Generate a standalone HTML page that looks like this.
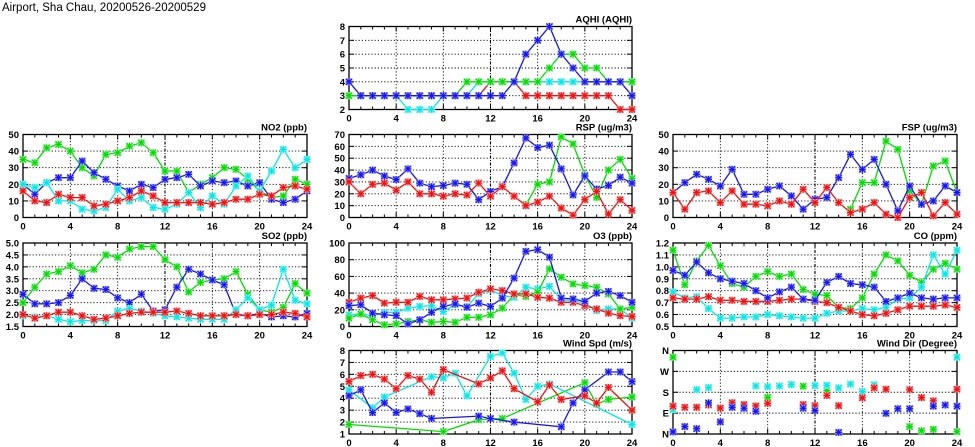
<!DOCTYPE html>
<html><head><meta charset="utf-8"><title>Airport, Sha Chau</title>
<style>
html,body{margin:0;padding:0;background:#fff;}
svg{display:block;}
text{font-family:"Liberation Sans",sans-serif;}
</style></head>
<body>
<svg id="chart" width="975" height="447" viewBox="0 0 975 447" xmlns="http://www.w3.org/2000/svg">
<rect x="0" y="0" width="975" height="447" fill="#fff"/>
<text x="2" y="11" font-size="11.5" fill="#000">Airport, Sha Chau, 20200526-20200529</text>
</svg>
<script>
const hours = [0,1,2,3,4,5,6,7,8,9,10,11,12,13,14,15,16,17,18,19,20,21,22,23,24];
const N = null;
// AQHI
const aqhiBlue  = [4,3,3,3,3,3,3,3,3,3,3,3,3,3,4,6,7,8,6,5,4,4,4,4,3];
const aqhiGreen = [3,3,3,3,3,3,3,3,3,3,4,4,4,4,4,4,4,5,6,6,5,5,4,4,4];
const aqhiCyan  = [3,3,3,3,3,2,2,2,3,3,3,4,4,4,4,4,4,4,4,4,4,4,4,4,4];
const aqhiRed   = [3,3,3,3,3,3,3,3,3,3,3,3,4,4,4,3,3,3,3,3,3,3,3,2,2];
const aqhiTicks = ['2','3','4','5','6','7','8'];
// NO2
const no2Green = [35,33,42,44,40,30,25,38,39,43,45,39,28,28,15,20,24,30,29,23,16,12,13,23,20];
const no2Blue  = [20,14,21,24,24,34,27,23,19,16,20,18,23,24,26,19,22,21,22,19,21,11,9,11,16];
const no2Cyan  = [20,18,21,10,10,5,4,6,17,10,12,6,5,8,15,6,13,8,19,25,16,28,41,30,35];
const no2Red   = [16,10,9,14,12,12,7,8,10,12,16,13,9,9,9,9,8,9,11,11,14,13,18,19,17];
const no2Ticks = ['0','10','20','30','40','50'];
// RSP
const rspBlue  = [33,36,40,35,32,41,29,26,27,29,28,15,22,26,46,67,59,61,41,19,35,24,27,34,29];
const rspRed   = [30,20,28,29,23,30,20,20,18,20,19,29,18,26,18,10,13,18,8,2,15,22,3,15,6];
const rspGreen = [N,N,N,N,N,N,N,N,N,N,N,N,N,N,N,11,28,30,68,62,36,17,40,49,33];
const rspTicks = ['0','10','20','30','40','50','60','70'];
// FSP
const fspBlue  = [15,21,26,23,19,29,14,14,17,19,13,5,11,12,24,38,29,35,20,4,19,8,10,19,15];
const fspRed   = [15,5,15,16,9,16,8,8,7,10,8,17,9,18,9,3,5,9,2,0,12,15,1,9,2];
const fspGreen = [N,N,N,N,N,N,N,N,N,N,N,N,N,N,N,5,21,21,46,41,16,8,31,34,15];
const fspTicks = ['0','10','20','30','40','50'];
// SO2
const so2Green = [2.5,3.15,3.7,3.8,4.05,3.75,3.9,4.5,4.4,4.75,4.85,4.85,4.3,4.0,2.95,3.35,3.45,3.5,3.8,2.85,2.2,2.1,2.3,3.3,2.9];
const so2Blue  = [2.85,2.45,2.45,2.5,2.8,3.5,3.1,3.05,2.7,2.5,2.85,2.15,2.2,3.15,3.9,3.7,3.45,3.25,2.0,1.95,2.05,1.9,1.95,1.9,2.05];
const so2Cyan  = [1.95,1.9,1.95,1.8,1.7,1.75,1.75,1.75,2.15,2.25,2.15,2.05,1.95,1.9,1.85,1.8,1.8,1.8,2.2,2.7,2.2,2.4,3.9,2.6,2.45];
const so2Red   = [2.0,1.85,1.95,2.1,2.1,1.95,1.8,1.85,1.95,2.05,2.1,2.1,2.1,2.15,2.05,1.95,1.95,1.95,2.0,1.95,2.0,2.0,2.1,2.05,1.9];
const so2Ticks = ['1.5','2.0','2.5','3.0','3.5','4.0','4.5','5.0'];
// O3
const o3Blue  = [25,26,16,14,13,3,8,17,24,27,23,28,24,34,58,90,92,83,34,33,30,40,42,37,29];
const o3Red   = [29,34,37,28,29,29,36,32,32,33,34,41,45,43,39,39,35,34,29,29,25,21,16,13,12];
const o3Green = [10,15,8,2,3,6,8,5,6,5,11,11,14,22,38,36,41,69,59,51,49,47,39,21,23];
const o3Cyan  = [14,15,13,17,17,22,24,25,18,26,24,39,44,37,35,47,45,48,32,31,28,19,21,21,10];
const o3Ticks = ['0','20','40','60','80','100'];
// CO
const coGreen = [1.14,0.85,1.05,1.18,1.01,0.86,0.83,0.92,0.96,0.92,0.94,0.81,0.77,0.76,0.66,0.65,0.74,0.94,1.10,1.05,0.93,0.87,0.98,1.03,0.98];
const coBlue  = [0.97,0.93,1.04,0.95,0.90,0.88,0.86,0.80,0.74,0.79,0.83,0.73,0.72,0.87,0.92,0.86,0.85,0.83,0.71,0.74,0.78,0.74,0.73,0.74,0.74];
const coCyan  = [0.79,0.74,0.75,0.65,0.57,0.57,0.58,0.58,0.60,0.59,0.58,0.57,0.57,0.61,0.63,0.63,0.65,0.64,0.66,0.73,0.74,0.83,1.10,0.94,1.14];
const coRed   = [0.74,0.73,0.73,0.75,0.72,0.72,0.71,0.71,0.71,0.72,0.73,0.73,0.71,0.70,0.66,0.63,0.60,0.59,0.61,0.64,0.67,0.67,0.67,0.68,0.66];
const coTicks = ['0.5','0.6','0.7','0.8','0.9','1.0','1.1','1.2'];
// Wind speed
const wsRed   = [5.4,5.9,6.0,5.6,4.8,5.9,5.6,4.5,6.4,N,N,5.2,5.7,6.3,4.8,N,3.7,5.1,3.9,N,4.2,3.6,4.9,N,3.0];
const wsCyan  = [4.7,N,3.2,4.1,N,N,N,5.8,5.7,6.1,4.2,N,7.5,7.8,6.1,3.9,5.0,5.2,N,N,N,N,N,N,1.8];
const wsBlue  = [4.2,4.7,2.8,3.6,2.8,3.1,2.7,2.3,N,N,N,2.5,2.3,N,2.0,N,N,N,1.6,3.6,4.7,N,6.2,6.2,5.4];
const wsGreen = [1.8,N,N,N,N,N,N,N,1.2,N,N,2.2,N,2.3,N,N,N,N,N,N,5.3,3.5,3.9,N,4.1];
const wsTicks = ['1','2','3','4','5','6','7','8'];
// Wind direction (degrees)
const wdGreen = [331,N,N,N,N,N,N,N,158,N,N,206,N,187,N,N,N,N,N,N,32,14,20,N,10];
const wdCyan  = [105,N,191,200,N,N,N,207,204,207,213,N,209,210,199,215,183,212,N,N,N,N,N,N,331];
const wdRed   = [120,115,115,125,112,135,127,121,132,N,N,127,122,166,122,N,156,199,193,N,191,157,143,N,193];
const wdBlue  = [9,32,23,134,52,115,111,98,N,N,N,111,101,N,7,N,N,N,89,109,109,N,120,125,120];
const wdTicks = ['N','E','S','W','N'];

const COLORS = {green:'#00dd00', blue:'#1515ee', cyan:'#00e8e8', red:'#ee1010'};
const LIGHT  = {green:'#a8f0a8', blue:'#a8a8f4', cyan:'#a8f4f4', red:'#f4a8a8'};

const panels = [
  {name:'aqhi', title:'AQHI (AQHI)', x0:349, x1:632, y0:26.5, y1:109.5, min:2, max:8, ticks:aqhiTicks,
   series:[['red',aqhiRed],['cyan',aqhiCyan],['green',aqhiGreen],['blue',aqhiBlue]]},
  {name:'no2', title:'NO2 (ppb)', x0:23, x1:307, y0:134.5, y1:217.5, min:0, max:50, ticks:no2Ticks,
   series:[['green',no2Green],['blue',no2Blue],['cyan',no2Cyan],['red',no2Red]]},
  {name:'rsp', title:'RSP (ug/m3)', x0:349, x1:632, y0:134.5, y1:217.5, min:0, max:70, ticks:rspTicks,
   series:[['green',rspGreen],['blue',rspBlue],['red',rspRed]]},
  {name:'fsp', title:'FSP (ug/m3)', x0:673, x1:957, y0:134.5, y1:217.5, min:0, max:50, ticks:fspTicks,
   series:[['green',fspGreen],['blue',fspBlue],['red',fspRed]]},
  {name:'so2', title:'SO2 (ppb)', x0:23, x1:307, y0:243, y1:326.5, min:1.5, max:5, ticks:so2Ticks,
   series:[['green',so2Green],['blue',so2Blue],['cyan',so2Cyan],['red',so2Red]]},
  {name:'o3', title:'O3 (ppb)', x0:349, x1:632, y0:243, y1:326.5, min:0, max:100, ticks:o3Ticks,
   series:[['cyan',o3Cyan],['green',o3Green],['red',o3Red],['blue',o3Blue]]},
  {name:'co', title:'CO (ppm)', x0:673, x1:957, y0:243, y1:326.5, min:0.5, max:1.2, ticks:coTicks,
   series:[['green',coGreen],['cyan',coCyan],['red',coRed],['blue',coBlue]]},
  {name:'wind-speed', title:'Wind Spd (m/s)', x0:349, x1:632, y0:350.5, y1:434, min:1, max:8, ticks:wsTicks,
   series:[['green',wsGreen],['cyan',wsCyan],['blue',wsBlue],['red',wsRed]]},
  {name:'wind-direction', title:'Wind Dir (Degree)', x0:673, x1:957, y0:350.5, y1:434, min:0, max:360, ticks:wdTicks, scatter:true,
   series:[['green',wdGreen],['cyan',wdCyan],['red',wdRed],['blue',wdBlue]]}
];

const NS = 'http://www.w3.org/2000/svg';
const svg = document.getElementById('chart');
function mk(tag, attrs, parent){
  const e = document.createElementNS(NS, tag);
  for (const k in attrs) e.setAttribute(k, attrs[k]);
  (parent||svg).appendChild(e);
  return e;
}

panels.forEach(p => {
  const g = mk('g', {});
  
  
  const xs = h => p.x0 + (h/24)*(p.x1-p.x0);
  const ys = v => p.y1 - (v-p.min)/(p.max-p.min)*(p.y1-p.y0);
  const nT = p.ticks.length;
  // horizontal grid + y tick labels
  for (let i=0;i<nT;i++){
    const y = p.y1 - i/(nT-1)*(p.y1-p.y0);
    if (i>0 && i<nT-1){
      const gl = mk('line',{x1:p.x0,x2:p.x1,y1:y,y2:y,stroke:'#000','stroke-width':0.9,'stroke-dasharray':'1.2,2'},g);
      
      
    }
    mk('line',{x1:p.x0,x2:p.x0+5,y1:y,y2:y,stroke:'#000','stroke-width':1},g);
    mk('line',{x1:p.x1-5,x2:p.x1,y1:y,y2:y,stroke:'#000','stroke-width':1},g);
    const t = mk('text',{x:p.x0-4,y:y+3.5,'text-anchor':'end','font-size':9.5,'font-weight':'bold',fill:'#000'},g);
    t.textContent = p.ticks[i];
    
    
  }
  // x ticks
  for (let h=0; h<=24; h++){
    const x = xs(h);
    const major = h%4===0;
    const len = major?5:3;
    mk('line',{x1:x,x2:x,y1:p.y1,y2:p.y1-len,stroke:'#000','stroke-width':1},g);
    mk('line',{x1:x,x2:x,y1:p.y0,y2:p.y0+len,stroke:'#000','stroke-width':1},g);
    if (major){
      if (h>0 && h<24){
        const vl = mk('line',{x1:x,x2:x,y1:p.y0,y2:p.y1,stroke:'#000','stroke-width':h===12?1.1:0.9,'stroke-dasharray':h===12?'3,1.5,1,1.5':'1.2,2'},g);
        
        
      }
      const t = mk('text',{x:x,y:p.y1+12,'text-anchor':'middle','font-size':9.5,'font-weight':'bold',fill:'#000'},g);
      t.textContent = String(h);
      
      
    }
  }
  // frame
  const fr = mk('rect',{x:p.x0,y:p.y0,width:p.x1-p.x0,height:p.y1-p.y0,fill:'none',stroke:'#000','stroke-width':1.3},g);
  
  
  const tt = mk('text',{x:p.x1,y:p.y0-4,'text-anchor':'end','font-size':9.5,'font-weight':'bold',fill:'#000','font-family':'Liberation Serif, serif'},g);
  tt.textContent = p.title;
  
  
  // series
  p.series.forEach(([col, vals]) => {
    const sg = mk('g',{},g);
    
    
    if (!p.scatter){
      const pts = [];
      vals.forEach((v,i)=>{ if (v!==null) pts.push(xs(hours[i]).toFixed(1)+','+ys(v).toFixed(1)); });
      const pl = mk('polyline',{points:pts.join(' '),fill:'none',stroke:COLORS[col],'stroke-width':1.3},sg);
      
      
    }
    vals.forEach((v,i)=>{
      if (v===null) return;
      const x = xs(hours[i]), y = ys(v);
      const m = mk('g',{},sg);
      
      
      mk('rect',{x:x-3.5,y:y-3.5,width:7,height:7,fill:LIGHT[col]},m);
      const c = COLORS[col];
      mk('line',{x1:x-3,x2:x+3,y1:y-3,y2:y+3,stroke:c,'stroke-width':1.2},m);
      mk('line',{x1:x-3,x2:x+3,y1:y+3,y2:y-3,stroke:c,'stroke-width':1.2},m);
      mk('line',{x1:x-3.5,x2:x+3.5,y1:y,y2:y,stroke:c,'stroke-width':1.1},m);
      mk('line',{x1:x,x2:x,y1:y-3.5,y2:y+3.5,stroke:c,'stroke-width':1.1},m);
    });
  });
});
</script>
</body></html>
